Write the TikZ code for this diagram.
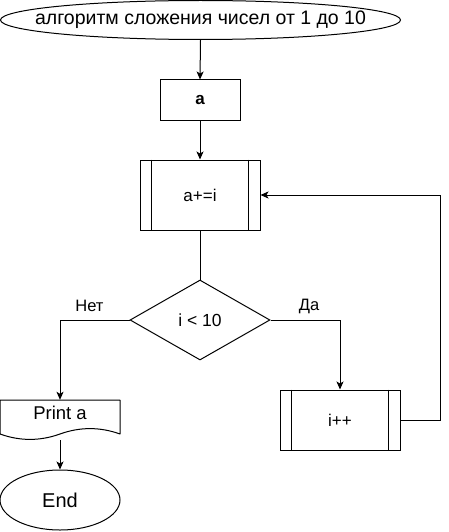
\documentclass[tikz,border=0pt]{standalone}
\usepackage{fontspec}
\setmainfont{Liberation Sans}
\usetikzlibrary{arrows.meta,shapes.geometric}
\tikzset{
  every node/.style={font=\fontsize{17}{20}\selectfont, inner sep=0pt},
  box/.style={draw, line width=1pt, rectangle},
  term/.style={draw, line width=1pt, ellipse},
  decis/.style={draw, line width=1pt, diamond, minimum width=140pt, minimum height=80pt},
  arr/.style={line width=1pt, -{Stealth[length=8pt,width=7pt,inset=2pt]}},
  ln/.style={line width=1pt},
  lbl/.style={font=\fontsize{16.5}{19}\selectfont}
}
\begin{document}
\begin{tikzpicture}[x=1pt,y=-1pt]
\useasboundingbox (0,0) rectangle (449,532);
% nodes
\node[term, inner xsep=-40pt, inner ysep=0pt, minimum width=400pt, minimum height=39pt, font=\fontsize{19.5}{23}\selectfont] (title) at (200.5,20) {алгоритм сложения чисел от 1 до 10};
\node[box, minimum width=80pt, minimum height=40pt, font=\fontsize{17}{20}\selectfont\bfseries] (a) at (200,100) {a};
\node[box, minimum width=120pt, minimum height=70pt] (sum) at (200,195) {a+=i};
\draw[ln] ([xshift=12pt]sum.north west) -- ([xshift=12pt]sum.south west);
\draw[ln] ([xshift=-12pt]sum.north east) -- ([xshift=-12pt]sum.south east);
\node[decis, font=\fontsize{17.5}{20}\selectfont] (dec) at (200,320) {i < 10};
\node[box, minimum width=120pt, minimum height=60pt] (inc) at (340,420) {i++};
\draw[ln] ([xshift=12pt]inc.north west) -- ([xshift=12pt]inc.south west);
\draw[ln] ([xshift=-12pt]inc.north east) -- ([xshift=-12pt]inc.south east);
\node[minimum width=120pt, minimum height=40pt] (print) at (60,420) {};
\draw[ln, line join=round] (0,400) -- (120,400) -- (120,434) .. controls (100,426.8) and (80,426.8) .. (60,434) .. controls (40,441.2) and (20,441.2) .. (0,434) -- cycle;
\node[font=\fontsize{18.5}{22}\selectfont] (printtxt) at (60,413) {Print a};
\node[term, minimum width=120pt, minimum height=60pt, font=\fontsize{20}{24}\selectfont] (end) at (60,500) {End};
\coordinate (back) at (440,195);
% labels
\node[lbl] (no) at (89.5,306) {Нет};
\node[lbl] (yes) at (309,306) {Да};
% edges
\draw[arr] (title.south) -- (a.north);
\draw[arr] (a.south) -- (sum.north);
\draw[ln] (sum.south) -- (dec.north);
\draw[arr] (dec.west) -| (print.north);
\draw[arr] (dec.east) -| (inc.north);
\draw[arr] (print.south) -- (end.north);
\draw[arr] (inc.east) -| (back) -- (sum.east);
\end{tikzpicture}
\end{document}
